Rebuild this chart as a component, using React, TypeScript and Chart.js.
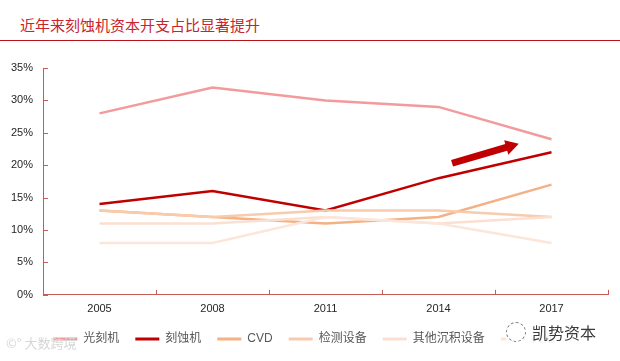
import React, { useEffect, useRef } from "react";
import { Chart, registerables } from "chart.js";

Chart.register(...registerables);

const TITLE = "近年来刻蚀机资本开支占比显著提升";
const years = ["2005", "2008", "2011", "2014", "2017"];
const seriesNames = ["光刻机", "刻蚀机", "CVD", "检测设备", "其他沉积设备", "其他"];
const litho = [28, 32, 30, 29, 24];
const etch = [14, 16, 13, 18, 22];
const cvd = [13, 12, 11, 12, 17];
const inspect = [13, 12, 13, 13, 12];
const otherDep = [11, 11, 12, 11, 12];
const other = [8, 8, 12, 11, 8];
const colors = ["#F29A9C", "#C00000", "#F4B183", "#F8CBAD", "#FBE0D2", "#FCE6DA"];
const yTicks = [0, 5, 10, 15, 20, 25, 30, 35];
// arrow annotation in data coordinates (category index, percent)
const arrowFrom = [3.12, 20.3];
const arrowTo = [3.71, 23.3];

const AXIS_COLOR = "#C65B5B";
const FONT = "'Liberation Sans', 'Noto Sans CJK SC', sans-serif";

const decorPlugin = {
  id: "decor",
  afterDraw(chart: any) {
    const { ctx, chartArea, scales } = chart;
    const x = scales.x;
    const y = scales.y;
    ctx.save();
    ctx.strokeStyle = AXIS_COLOR;
    ctx.lineWidth = 1;
    ctx.beginPath();
    yTicks.forEach((v) => {
      const py = Math.round(y.getPixelForValue(v)) + 0.5;
      ctx.moveTo(chartArea.left, py);
      ctx.lineTo(chartArea.left + 5, py);
    });
    const n = years.length;
    const w = (chartArea.right - chartArea.left) / n;
    for (let i = 1; i <= n; i++) {
      const px = Math.round(chartArea.left + i * w) + 0.5;
      ctx.moveTo(px, chartArea.bottom);
      ctx.lineTo(px, chartArea.bottom - 5);
    }
    ctx.stroke();

    // arrow
    const x0 = x.getPixelForValue(arrowFrom[0]);
    const y0 = y.getPixelForValue(arrowFrom[1]);
    const x1 = x.getPixelForValue(arrowTo[0]);
    const y1 = y.getPixelForValue(arrowTo[1]);
    const ang = Math.atan2(y1 - y0, x1 - x0);
    const len = Math.hypot(x1 - x0, y1 - y0);
    const headLen = 13;
    const bodyW = 7;
    const headW = 15;
    ctx.translate(x0, y0);
    ctx.rotate(ang);
    ctx.fillStyle = "#C00000";
    ctx.beginPath();
    ctx.moveTo(0, -bodyW / 2);
    ctx.lineTo(len - headLen, -bodyW / 2);
    ctx.lineTo(len - headLen, -headW / 2);
    ctx.lineTo(len, 0);
    ctx.lineTo(len - headLen, headW / 2);
    ctx.lineTo(len - headLen, bodyW / 2);
    ctx.lineTo(0, bodyW / 2);
    ctx.closePath();
    ctx.fill();
    ctx.restore();
  },
};

export default function App() {
  const ref = useRef<HTMLCanvasElement>(null);
  useEffect(() => {
    const data = [litho, etch, cvd, inspect, otherDep, other];
    const chart = new Chart(ref.current!, {
      type: "line",
      data: {
        labels: years,
        datasets: data.map((d, i) => ({
          label: seriesNames[i],
          data: d,
          borderColor: colors[i],
          backgroundColor: colors[i],
          borderWidth: 2.5,
          pointRadius: 0,
          tension: 0,
          fill: false,
          order: 6 - i,
        })),
      },
      options: {
        animation: false,
        responsive: false,
        maintainAspectRatio: false,
        layout: { padding: { left: 0, right: 12, top: 68, bottom: 6 } },
        plugins: {
          legend: {
            position: "bottom",
            labels: {
              boxWidth: 24,
              boxHeight: 3,
              padding: 16,
              color: "#595959",
              font: { family: FONT, size: 12 },
              generateLabels: (c: any) =>
                c.data.datasets.map((ds: any, i: number) => ({
                  text: ds.label,
                  fillStyle: ds.borderColor,
                  strokeStyle: ds.borderColor,
                  lineWidth: 0,
                  datasetIndex: i,
                  hidden: false,
                  fontColor: "#595959",
                })),
            },
          },
          tooltip: { enabled: false },
        },
        scales: {
          x: {
            offset: true,
            afterFit: (s: any) => {
              s.height = s.height - 7;
            },
            grid: { display: false, drawTicks: false, offset: true },
            border: { display: true, color: AXIS_COLOR, width: 1 },
            ticks: { color: "#262626", font: { family: FONT, size: 11 }, padding: 8 },
          },
          y: {
            min: 0,
            max: 35,
            afterFit: (s: any) => {
              s.width = 43;
            },
            grid: { display: false, drawTicks: false },
            border: { display: true, color: AXIS_COLOR, width: 1 },
            ticks: {
              stepSize: 5,
              color: "#262626",
              font: { family: FONT, size: 11 },
              padding: 10,
              callback: (v: any) => v + "%",
            },
          },
        },
      },
      plugins: [decorPlugin],
    });
    return () => chart.destroy();
  }, []);

  return (
    <div style={{ position: "fixed", left: 0, top: 0, width: 620, height: 361, background: "#fff", overflow: "hidden" }}>
      <div
        style={{
          position: "absolute",
          left: 20,
          top: 14,
          fontFamily: "'Noto Sans CJK SC', sans-serif",
          fontSize: 15,
          lineHeight: "22px",
          color: "#C8242B",
          whiteSpace: "nowrap",
        }}
      >
        {TITLE}
      </div>
      <div style={{ position: "absolute", left: 0, top: 40, width: 620, height: 1, background: "#B5121B" }} />
      <canvas ref={ref} width={620} height={361} style={{ position: "absolute", left: 0, top: 0 }} />
      <div
        style={{
          position: "absolute",
          left: 506,
          top: 321,
          paddingRight: 6,
          background: "rgba(255,255,255,0.9)",
          fontFamily: "'Noto Sans CJK SC', sans-serif",
          fontSize: 16,
          lineHeight: "22px",
          color: "#3a3a3a",
          whiteSpace: "nowrap",
          display: "flex",
          alignItems: "center",
        }}
      >
        <span
          style={{
            display: "inline-block",
            width: 20,
            height: 20,
            borderRadius: "50%",
            border: "1px dashed #777",
            marginRight: 6,
            boxSizing: "border-box",
          }}
        />
        凯势资本
      </div>
      <div
        style={{
          position: "absolute",
          left: 6,
          top: 335,
          fontFamily: "'Noto Sans CJK SC', sans-serif",
          fontSize: 13,
          lineHeight: "16px",
          color: "#d6d6d6",
          whiteSpace: "nowrap",
        }}
      >
        ©° 大数跨境
      </div>
    </div>
  );
}
